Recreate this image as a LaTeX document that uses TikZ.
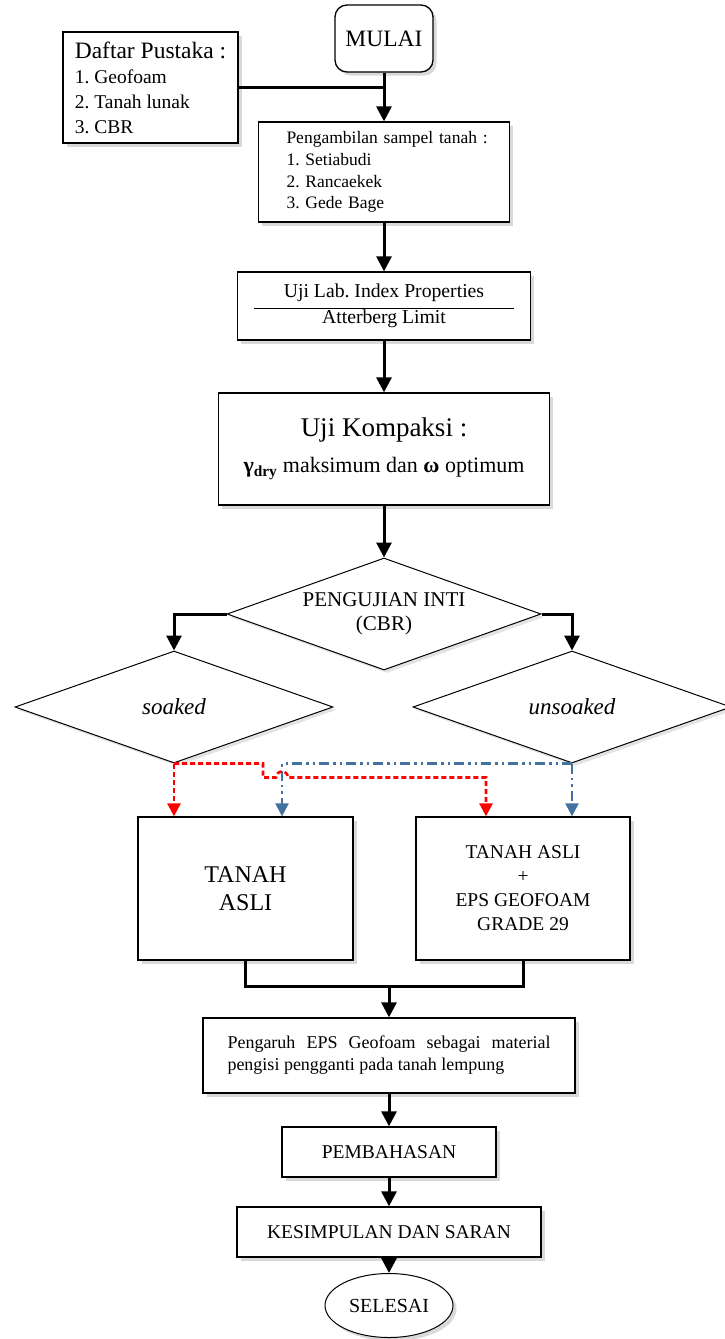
\documentclass[tikz,border=0pt]{standalone}
\usepackage{fontspec}
\setmainfont{Liberation Serif}
\usetikzlibrary{arrows.meta,shapes.geometric,shadows}
\definecolor{flowred}{RGB}{255,0,0}
\definecolor{flowblue}{RGB}{68,114,160}
\newcommand{\fsz}[2]{\fontsize{#1}{#2}\selectfont}

\begin{document}
\frenchspacing
\begin{tikzpicture}[x=1pt,y=-1pt,
  box/.style={draw,line width=1.3pt,fill=white,inner sep=0pt,
    drop shadow={shadow xshift=3.5pt,shadow yshift=-3.5pt,opacity=.3}},
  decision/.style={draw,diamond,aspect=2.8,line width=1pt,fill=white,inner sep=0pt,
    drop shadow={shadow xshift=3pt,shadow yshift=-3pt,opacity=.22}},
  flow/.style={line width=3pt,-{Triangle[length=15pt,width=15pt]}},
  link/.style={line width=3pt},
  redflow/.style={flowred,line width=2.6pt,dash pattern=on 5pt off 3pt,
    -{Triangle[length=13pt,width=13pt]}},
  blueflow/.style={flowblue,line width=2.4pt,
    dash pattern=on 10pt off 4pt on 2.5pt off 4pt on 2.5pt off 4pt,
    -{Triangle[length=13pt,width=13pt]}}]
  \useasboundingbox (0,0) rectangle (724,1339);

  \node[box,rounded corners=12pt,minimum width=98pt,minimum height=67pt,
    font=\fsz{23.5}{28}] (mulai) at (384,38.5) {MULAI};
  \node[box,minimum width=175pt,minimum height=111pt,
    align=left,font=\fsz{19.5}{25}] (pustaka) at (150.5,87.5)
    {{\fsz{23.5}{25}Daftar Pustaka :}\\1. Geofoam\\2. Tanah lunak\\3. CBR};
  \node[box,minimum width=251pt,minimum height=100pt,text width=195pt,
    align=left,font=\fsz{17.5}{21.7}] (sampel) at (384,172)
    {\mbox{Pengambilan sampel tanah :}\\1. Setiabudi\\2. Rancaekek\\3. Gede Bage};
  \node[box,minimum width=293pt,minimum height=68pt,align=center,
    font=\fsz{19.7}{26}] (lab) at (384,306)
    {Uji Lab. Index Properties\\Atterberg Limit};
  \draw[line width=1pt] ([xshift=17pt,yshift=-2pt]lab.west)
    -- ([xshift=-17pt,yshift=-2pt]lab.east);
  \node[box,minimum width=331pt,minimum height=112pt,align=center,
    font=\fsz{22}{36}] (kompaksi) at (384,449)
    {{\fsz{27}{36}Uji Kompaksi :}\\\textbf{γ\textsubscript{dry}} maksimum dan \textbf{ω} optimum};

  \node[decision,minimum width=314pt,minimum height=112pt,align=center,
    font=\fsz{21}{24}] (inti) at (384,614) {PENGUJIAN INTI\\(CBR)};
  \node[decision,minimum width=318pt,minimum height=112pt,
    font=\fsz{23}{24}\itshape] (soaked) at (174,707) {soaked};
  \node[decision,minimum width=318pt,minimum height=112pt,
    font=\fsz{23}{24}\itshape] (unsoaked) at (572,707) {unsoaked};

  \node[box,minimum width=215pt,minimum height=143pt,align=center,
    font=\fsz{24}{28}] (asli) at (245.5,888.5) {TANAH\\ASLI};
  \node[box,minimum width=214pt,minimum height=143pt,align=center,
    font=\fsz{19.5}{24}] (geofoam) at (523,888.5)
    {TANAH ASLI\\+\\EPS GEOFOAM\\GRADE 29};

  \node[box,minimum width=372pt,minimum height=75pt,text width=323pt,
    align=justify,font=\fsz{18}{22}] (pengaruh) at (389,1055.5)
    {Pengaruh EPS Geofoam sebagai material pengisi pengganti pada tanah lempung};
  \node[box,minimum width=214pt,minimum height=50pt,
    font=\fsz{19.5}{24}] (bahas) at (389,1152) {PEMBAHASAN};
  \node[box,minimum width=304pt,minimum height=50pt,
    font=\fsz{19.5}{24}] (simpul) at (389,1232) {KESIMPULAN DAN SARAN};
  \node[box,ellipse,line width=1pt,minimum width=128pt,minimum height=64pt,
    font=\fsz{20}{24}] (selesai) at (389,1305.5) {SELESAI};

  \draw[link] (pustaka.east) -- (pustaka.east -| mulai.south);
  \draw[flow] (mulai) -- (sampel);
  \draw[flow] (sampel) -- (lab);
  \draw[flow] (lab) -- (kompaksi);
  \draw[flow] (kompaksi) -- (inti);
  \draw[flow] (inti.west) -| (soaked.north);
  \draw[flow] (inti.east) -| (unsoaked.north);

  \draw[redflow] (soaked.south) -- (soaked.south |- asli.north);
  \draw[blueflow] (unsoaked.south) -- (unsoaked.south |- geofoam.north);
  \draw[blueflow] (unsoaked.south) -| ([xshift=36.5pt]asli.north);
  \draw[redflow] (soaked.south) -- ++(89,0) -- ++(0,14) -- ++(13,0)
    arc[start angle=180,end angle=360,radius=6]
    -| ([xshift=-37pt]geofoam.north);

  \coordinate (merge) at (389,986);
  \draw[link] (asli.south) |- (merge) -| (geofoam.south);
  \draw[flow] (merge) -- (pengaruh);
  \draw[flow] (pengaruh) -- (bahas);
  \draw[flow] (bahas) -- (simpul);
  \draw[flow] (simpul) -- (selesai);
\end{tikzpicture}
\end{document}
